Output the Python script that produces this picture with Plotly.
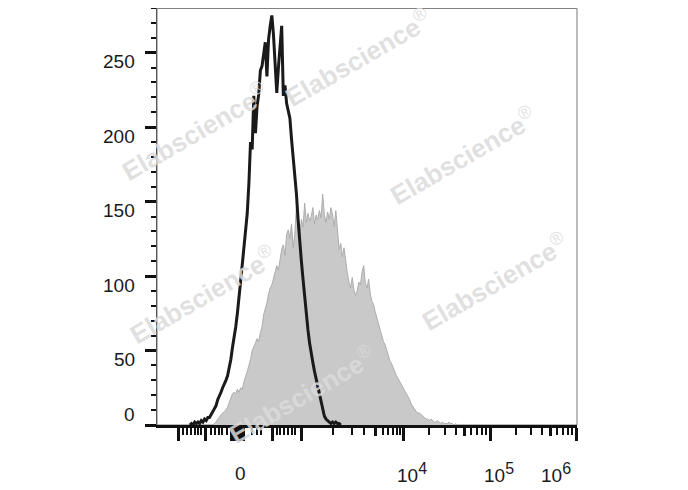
import plotly.graph_objects as go

# histogram channels (display scale 0-256) and event counts
black_start = 20
black_counts = [0, 1, 0, 2, 1, 2, 1, 3, 2, 4, 3, 5, 5, 7, 9, 11, 13, 17, 19, 22,
                25, 27, 30, 33, 38, 44, 52, 58, 66, 75, 88, 97, 108, 118, 128, 142, 162, 190, 185, 221,
                196, 214, 222, 238, 241, 250, 257, 234, 259, 268, 275, 262, 243, 223, 240, 258, 268, 221, 228, 216,
                210, 206, 192, 180, 168, 155, 138, 122, 110, 98, 86, 72, 64, 55, 47, 42, 36, 31, 25, 19,
                14, 10, 6, 4, 3, 2, 1, 2, 1, 2, 1, 1, 0]

gray_start = 34
gray_counts = [0, 1, 2, 4, 5, 7, 8, 9, 10, 12, 15, 19, 21, 22, 21, 24, 22, 25, 24, 29,
               32, 36, 40, 44, 50, 52, 55, 58, 56, 62, 66, 74, 78, 82, 88, 92, 94, 98, 103, 107,
               104, 112, 118, 121, 114, 128, 131, 125, 135, 119, 128, 147, 130, 127, 138, 133, 149, 136, 142, 137,
               140, 146, 135, 141, 138, 144, 139, 155, 141, 136, 143, 138, 146, 141, 133, 144, 129, 118, 122, 113,
               119, 108, 102, 96, 92, 99, 91, 87, 90, 96, 94, 103, 107, 95, 92, 98, 88, 83, 81, 76,
               72, 68, 63, 60, 56, 54, 50, 46, 43, 41, 38, 36, 33, 31, 29, 28, 25, 23, 21, 19,
               17, 14, 12, 10, 9, 8, 8, 7, 6, 5, 4, 4, 3, 4, 3, 2, 2, 3, 2, 1,
               2, 1, 1, 1, 2, 1, 1, 0, 1, 0]

# x axis ticks (channel positions on the biexponential display)
x_major = [13.4, 29.3, 45.7, 46.9, 48.2, 49.4, 50.6, 51.8, 53.0, 70.1, 87.8, 150, 203.2, 255.5]
x_medium = [132.9, 187.2, 239.8]
x_minor = [15.8, 18.3, 20.7, 23.2, 25.0, 26.8, 32.9, 35.4, 37.8, 39.6, 42.7,
           57.9, 61.0, 63.4, 73.1, 74.9, 77.4, 79.8, 82.3, 84.1,
           107.3, 118.9, 126.2, 137.8, 140.8, 143.9, 146.3, 148.1,
           166.0, 175.4, 182.0, 191.4, 195.0, 198.0, 200.8,
           219.0, 228.2, 234.7, 243.9, 247.4, 250.4, 253.1]
x_label_pos = [50.6, 150, 203.2, 255.5]
x_label_base = ["0", "10", "10", "10"]
x_label_exp = ["", "4", "5", "6"]

y_ticks = [0, 50, 100, 150, 200, 250]

watermarks = [(0.479, 0.882), (0.090, 0.703), (0.729, 0.647),
              (0.110, 0.312), (0.805, 0.343), (0.345, 0.072)]

FONT = "Liberation Sans, Arial, sans-serif"

fig = go.Figure()

fig.add_trace(go.Scatter(
    x=[gray_start + i for i in range(len(gray_counts))], y=gray_counts,
    mode="lines", fill="tozeroy", fillcolor="#c9c9c9",
    line=dict(color="#adadad", width=1), hoverinfo="skip", showlegend=False))

fig.add_trace(go.Scatter(
    x=[black_start + i for i in range(len(black_counts))], y=black_counts,
    mode="lines", line=dict(color="#1a1a1a", width=3),
    hoverinfo="skip", showlegend=False))

# empty trace so the medium-tick overlay axis gets drawn
fig.add_trace(go.Scatter(x=[], y=[], xaxis="x2", showlegend=False, hoverinfo="skip"))

# frame (top / right)
fig.add_shape(type="rect", xref="paper", yref="paper", x0=0, x1=1, y0=0, y1=0.999,
              line=dict(color="#777777", width=1), layer="below")

annotations = []
for v in y_ticks:
    annotations.append(dict(x=0, xref="paper", xanchor="right", xshift=-20,
                            y=v, yref="y", yanchor="middle",
                            yshift=11 if v == 0 else -9,
                            text=str(v), showarrow=False,
                            font=dict(family=FONT, size=19, color="#1a1a1a")))

for pos, base, exp in zip(x_label_pos, x_label_base, x_label_exp):
    if exp == "":
        txt, anchor, shift = base, "center", 0
    else:
        txt = base + "<sup><span style='font-size:16px'>" + exp + "</span></sup>"
        if pos > 250:
            anchor, shift = "right", -3
        else:
            anchor, shift = "left", -8
    annotations.append(dict(x=pos, xref="x", xanchor=anchor, xshift=shift,
                            y=0, yref="paper", yanchor="middle", yshift=-48,
                            text=txt, showarrow=False,
                            font=dict(family=FONT, size=19, color="#1a1a1a")))

for wx, wy in watermarks:
    annotations.append(dict(x=wx, y=wy, xref="paper", yref="paper",
                            xanchor="center", yanchor="middle",
                            text="<b>Elabscience</b><sup>®</sup>", textangle=-30,
                            showarrow=False,
                            font=dict(family=FONT, size=26, color="rgba(219,219,219,0.85)")))

# the page body adds an 8px offset, so the figure is 8px smaller than the window
fig.update_layout(
    width=680, height=482,
    margin=dict(l=149, r=111, t=0, b=65),
    paper_bgcolor="white", plot_bgcolor="white",
    font=dict(family=FONT, size=19, color="#1a1a1a"),
    annotations=annotations,
    xaxis=dict(range=[0, 256], showgrid=False, zeroline=False,
               showline=True, linecolor="#111111", linewidth=3,
               tickmode="array", tickvals=x_major, showticklabels=False,
               ticks="outside", ticklen=13, tickwidth=3, tickcolor="#111111",
               minor=dict(tickmode="array", tickvals=x_minor, ticks="outside",
                          ticklen=7, tickwidth=2, tickcolor="#111111")),
    xaxis2=dict(range=[0, 256], overlaying="x", anchor="y", side="bottom",
                showgrid=False, zeroline=False, showline=False,
                tickmode="array", tickvals=x_medium, showticklabels=False,
                ticks="outside", ticklen=10, tickwidth=2.5, tickcolor="#111111"),
    yaxis=dict(range=[0, 280], showgrid=False, zeroline=False,
               showline=True, linecolor="#555555", linewidth=1.2,
               tickmode="array", tickvals=y_ticks, showticklabels=False,
               ticks="outside", ticklen=11, tickwidth=3, tickcolor="#111111",
               minor=dict(dtick=10, tick0=0, ticks="outside",
                          ticklen=5, tickwidth=2, tickcolor="#111111")),
)

fig.write_html("out.html")
